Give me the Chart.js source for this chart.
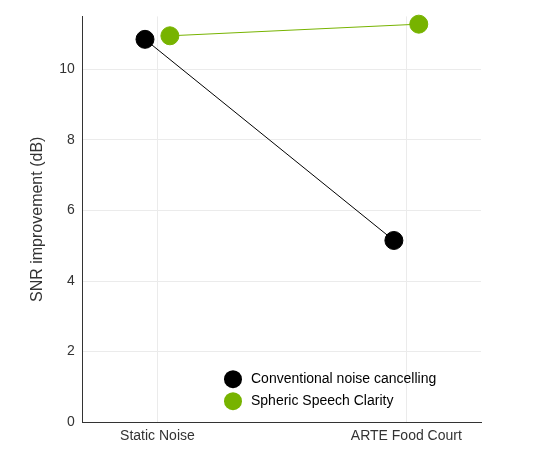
<!DOCTYPE html>
<html><head><script src="https://cdn.jsdelivr.net/npm/chart.js@4"></script>
<style>body{margin:0;background:#fff}#w{width:533px;height:465px}</style></head>
<body><div id="w"><canvas id="c"></canvas></div>
<script>
const categories=["Static Noise","ARTE Food Court"];
const conventional=[10.85,5.15];
const spheric=[10.95,11.28];
const seriesNames=["Conventional noise cancelling","Spheric Speech Clarity"];
const yTicks=[0,2,4,6,8,10];
const off=0.05;
const mk=(vals,d)=>vals.map((v,i)=>({x:i+1+d,y:v}));
const legendPlugin={id:'lg',afterDraw(ch){const ctx=ch.ctx,a=ch.chartArea;
ch.data.datasets.forEach((ds,i)=>{const y=a.bottom-43+i*22,x=a.right-248;
ctx.save();ctx.fillStyle=ds.backgroundColor;ctx.beginPath();ctx.arc(x,y,9,0,Math.PI*2);ctx.fill();
ctx.fillStyle='#000';ctx.font='14px "Liberation Sans"';ctx.textBaseline='middle';ctx.fillText(ds.label,x+18,y);ctx.restore();});}};
new Chart(document.getElementById('c'),{type:'scatter',
data:{datasets:[
{label:seriesNames[0],data:mk(conventional,-off),showLine:true,borderColor:'#000',backgroundColor:'#000',borderWidth:1,pointRadius:9,pointHoverRadius:9,clip:false},
{label:seriesNames[1],data:mk(spheric,off),showLine:true,borderColor:'#77b300',backgroundColor:'#77b300',borderWidth:1,pointRadius:9,pointHoverRadius:9,clip:false}]},
plugins:[legendPlugin],
options:{responsive:true,maintainAspectRatio:false,animation:false,
layout:{padding:{left:24,right:52,top:15,bottom:14}},
plugins:{legend:{display:false},tooltip:{enabled:false}},
scales:{
x:{type:'linear',min:0.7,max:2.3,afterBuildTicks:a=>{a.ticks=categories.map((c,i)=>({value:i+1}));},
ticks:{callback:v=>categories[v-1]||'',color:'#333',padding:6,font:{family:'Liberation Sans',size:14}},
grid:{color:'#ebebeb',drawTicks:false},border:{color:'#333'}},
y:{min:0,max:11.5,afterBuildTicks:a=>{a.ticks=yTicks.map(v=>({value:v}));},
title:{display:true,text:'SNR improvement (dB)',color:'#333',font:{family:'Liberation Sans',size:16}},
ticks:{color:'#333',padding:8,font:{family:'Liberation Sans',size:14}},
grid:{color:'#ebebeb',drawTicks:false},border:{color:'#333'}}}}});
</script></body></html>
